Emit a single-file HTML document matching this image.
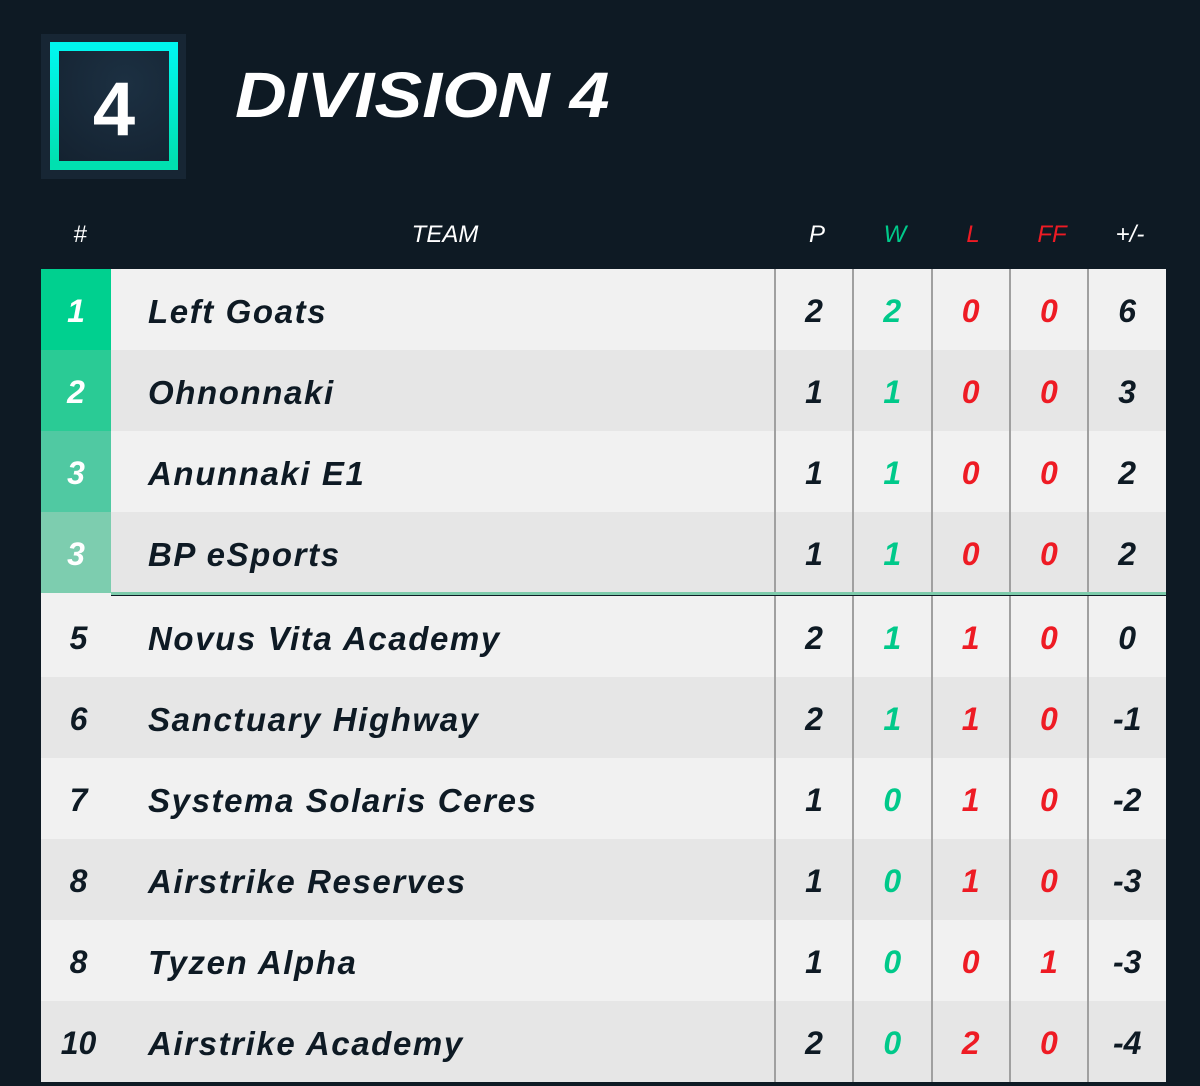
<!DOCTYPE html>
<html><head><meta charset="utf-8"><style>
*{margin:0;padding:0;box-sizing:border-box}
body{width:1200px;height:1082px;background:#0e1a24;position:relative;overflow:hidden;font-family:"Liberation Sans",sans-serif;font-style:italic;font-weight:bold}
.logo{position:absolute;left:41px;top:34px;width:145px;height:145px;background:#172634}
.logo .in{position:absolute;left:9px;top:8px;width:128px;height:128px;border:9px solid #00e8d0;border-image:linear-gradient(#00f6ee,#00e0b0) 1;background:radial-gradient(circle at 60% 30%,#1c3042,#142230);color:#fff;font-size:76px;font-style:normal;text-align:center;line-height:118px}
.title{position:absolute;left:235px;top:58px;color:#fff;font-size:64px;transform:scaleX(1.12);transform-origin:left top;letter-spacing:0}
.hdr{position:absolute;top:221px;font-size:24px;font-weight:normal;color:#fff;text-align:center}
.row{position:absolute;left:41px;width:1125px;height:81px}
.c{position:absolute;top:0;height:100%;line-height:85px;font-size:32px;text-align:center;color:#0e1a24}
.rank{left:0;width:75px;font-size:32px}
.name{left:107px;text-align:left;font-size:33px;letter-spacing:1.6px}
.v{border-left:2px solid #a0a0a0;width:78px}
.g{color:#00c98a}.r{color:#ee1b24}
</style></head><body>
<div class="logo"><div class="in">4</div></div>
<div class="title">DIVISION 4</div>
<div class="hdr" style="left:60px;width:40px">#</div>
<div class="hdr" style="left:380px;width:130px">TEAM</div>
<div class="hdr" style="left:778px;width:78px">P</div>
<div class="hdr g" style="left:856px;width:78px">W</div>
<div class="hdr r" style="left:934px;width:78px">L</div>
<div class="hdr r" style="left:1013px;width:78px">FF</div>
<div class="hdr" style="left:1091px;width:78px">+/-</div>
<div style="position:absolute;left:41px;top:592px;width:70px;height:4px;background:#f1f1f1"></div>
<div id="tbl"></div>
<div style="position:absolute;left:111px;top:592px;width:1055px;height:3px;background:#7dcbab"></div>
<script>
const ranks=["1","2","3","3","5","6","7","8","8","10"];
const teams=["Left Goats","Ohnonnaki","Anunnaki E1","BP eSports","Novus Vita Academy","Sanctuary Highway","Systema Solaris Ceres","Airstrike Reserves","Tyzen Alpha","Airstrike Academy"];
const played=[2,1,1,1,2,2,1,1,1,2];
const wins=[2,1,1,1,1,1,0,0,0,0];
const losses=[0,0,0,0,1,1,1,1,0,2];
const forfeits=[0,0,0,0,0,0,0,0,1,0];
const diffs=[6,3,2,2,0,-1,-2,-3,-3,-4];
const rankColors=["#00d08f","#2acb95","#50c9a2","#7dcdaf"];
const tbl=document.getElementById('tbl');
teams.forEach((t,i)=>{
  const top=269+i*81+(i>=4?3:0);
  const row=document.createElement('div');
  
  
  row.className='row';row.style.top=top+'px';
  row.style.background=i%2?'#e6e6e6':'#f1f1f1';
  const rk=document.createElement('div');
  
  
  rk.className='c rank';rk.textContent=ranks[i];
  if(i<4){rk.style.background=rankColors[i];rk.style.color='#fff';rk.style.width='70px';}
  row.appendChild(rk);
  const nm=document.createElement('div');
  
  
  nm.className='c name';nm.textContent=t;row.appendChild(nm);
  const vals=[[played[i],''],[wins[i],'g'],[losses[i],'r'],[forfeits[i],'r'],[diffs[i],'']];
  vals.forEach((v,j)=>{
    const c=document.createElement('div');
    
    
    c.className='c v '+v[1];c.style.left=(733+j*78.3)+'px';c.textContent=v[0];
    row.appendChild(c);
  });
  tbl.appendChild(row);
});
</script>
</body></html>
